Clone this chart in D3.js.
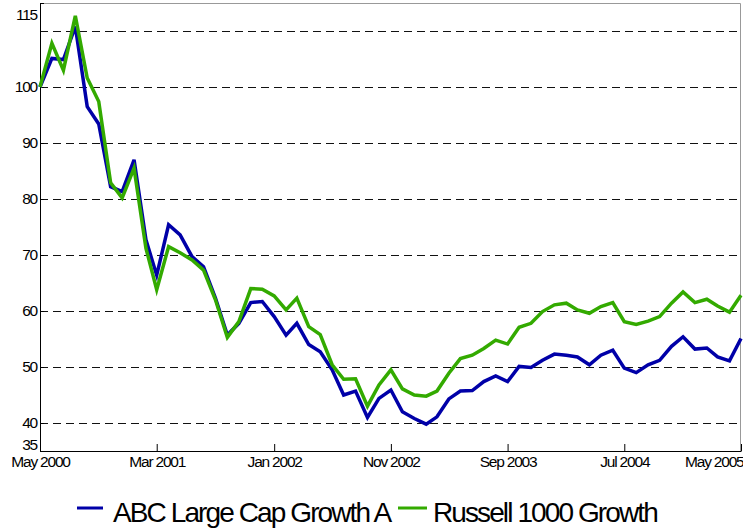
<!DOCTYPE html>
<html>
<head>
<meta charset="utf-8">
<script src="https://cdn.jsdelivr.net/npm/d3@7"></script>
<style>
    body { margin: 0; background: #fff; }
    text { font-family: "Liberation Sans", Arial, sans-serif; }
</style>
</head>
<body>
<div id="chart"></div>
<script>
// monthly points, May 2000 - May 2005
var months = d3.timeMonth.range(new Date(2000, 4, 1), new Date(2005, 5, 1));

var abcValues = [100, 105.1, 104.9, 110.8, 96.5, 93.4, 82.2, 81.3, 87.0, 72.7,
    66.4, 75.4, 73.6, 69.7, 67.9, 62.3, 55.7, 57.8, 61.5, 61.7,
    59.0, 55.7, 57.8, 54.0, 52.7, 49.5, 45.0, 45.7, 41.0, 44.4,
    45.9, 42.0, 40.8, 39.8, 41.1, 44.3, 45.7, 45.8, 47.4, 48.4,
    47.4, 50.1, 49.9, 51.2, 52.3, 52.1, 51.8, 50.4, 52.1, 53.0,
    49.8, 49.0, 50.4, 51.2, 53.7, 55.4, 53.2, 53.4, 51.8, 51.1,
    55.1];

var russellValues = [100, 107.8, 103.0, 112.7, 101.6, 97.4, 82.9, 80.2, 85.5, 71.2,
    63.8, 71.5, 70.4, 69.1, 67.3, 62.0, 55.3, 58.1, 64.0, 63.9,
    62.7, 60.2, 62.3, 57.2, 55.8, 50.4, 47.8, 47.9, 43.0, 46.8,
    49.5, 46.1, 45.0, 44.8, 45.7, 48.9, 51.5, 52.1, 53.3, 54.8,
    54.1, 57.1, 57.8, 59.9, 61.1, 61.4, 60.2, 59.6, 60.8, 61.5,
    58.1, 57.6, 58.2, 59.0, 61.4, 63.4, 61.5, 62.1, 60.9, 59.8,
    62.8];

var seriesNames = ["ABC Large Cap Growth A", "Russell 1000 Growth"];
var seriesColors = ["#0000a8", "#33aa00"];

var xTickLabels = ["May 2000", "Mar 2001", "Jan 2002", "Nov 2002", "Sep 2003", "Jul 2004", "May 2005"];
var yTickValues = [35, 40, 50, 60, 70, 80, 90, 100, 115];
var gridValues = [40, 50, 60, 70, 80, 90, 100, 110];

var svgWidth = 743;
var svgHeight = 529;

var margin = {
    top: 3,
    right: 2,
    bottom: 78,
    left: 40
};

var width = svgWidth - margin.left - margin.right;
var height = svgHeight - margin.top - margin.bottom;

var svg = d3.select("#chart")
    .append("svg")
    .attr("width", svgWidth)
    .attr("height", svgHeight);

var chartGroup = svg.append("g")
    .attr("transform", `translate(${margin.left}, ${margin.top})`);

var xScale = d3.scaleTime()
    .domain([months[0], months[months.length - 1]])
    .range([0, width]);

var yScale = d3.scaleLinear()
    .domain([35, 115])
    .range([height, 0]);

// dashed grid, snapped to whole pixels so it stays dark
chartGroup.append("g")
    .selectAll("line")
    .data(gridValues)
    .enter()
    .append("line")
    .attr("x1", 0)
    .attr("x2", width)
    .attr("y1", d => Math.round(yScale(d)) + 0.5)
    .attr("y2", d => Math.round(yScale(d)) + 0.5)
    .attr("stroke", "#111")
    .attr("stroke-width", 1)
    .attr("stroke-dasharray", "8,5");

// frame: grey top/right, black left/bottom
chartGroup.append("path")
    .attr("d", `M0,0.5H${width - 0.5}V${height}`)
    .attr("fill", "none")
    .attr("stroke", "#999");

var xTicks = months.filter((d, i) => i % 10 === 0);

var bottomAxis = d3.axisBottom(xScale)
    .tickValues(xTicks)
    .tickFormat((d, i) => xTickLabels[i])
    .tickSizeInner(-7)
    .tickSizeOuter(0)
    .tickPadding(5);

var leftAxis = d3.axisLeft(yScale)
    .tickValues(yTickValues)
    .tickSizeInner(-4)
    .tickSizeOuter(0)
    .tickPadding(3);

var xAxisGroup = chartGroup.append("g")
    .attr("transform", `translate(0, ${height})`)
    .call(bottomAxis);

var yAxisGroup = chartGroup.append("g").call(leftAxis);

[xAxisGroup, yAxisGroup].forEach(function (g) {
    g.select(".domain").attr("stroke", "#000");
    g.selectAll(".tick line").attr("stroke", "#000");
    g.selectAll("text")
        .attr("font-family", "Liberation Sans, Arial, sans-serif")
        .attr("font-size", "15.5px")
        .attr("letter-spacing", "-1.2px")
        .attr("fill", "#000");
});

// last date label kept inside the svg
xAxisGroup.selectAll(".tick text")
    .filter((d, i) => i === xTicks.length - 1)
    .attr("text-anchor", "end")
    .attr("x", 2);

// end labels nudged inside the frame
yAxisGroup.selectAll(".tick text")
    .filter(d => d === 115)
    .attr("dy", "1.05em");

yAxisGroup.selectAll(".tick text")
    .filter(d => d === 35)
    .attr("dy", "-0.08em");

var line = d3.line()
    .x((d, i) => xScale(months[i]))
    .y(d => yScale(d));

[abcValues, russellValues].forEach(function (values, k) {
    chartGroup.append("path")
        .datum(values)
        .attr("d", line)
        .attr("fill", "none")
        .attr("stroke", seriesColors[k])
        .attr("stroke-width", 3.5);
});

// legend
var legendX = [[37, 63, 73], [358, 387, 393]];

var legend = chartGroup.append("g")
    .attr("transform", `translate(0, ${height + 57})`);

seriesNames.forEach(function (name, k) {
    legend.append("line")
        .attr("x1", legendX[k][0])
        .attr("x2", legendX[k][1])
        .attr("y1", 0)
        .attr("y2", 0)
        .attr("stroke", seriesColors[k])
        .attr("stroke-width", 3);

    legend.append("text")
        .attr("x", legendX[k][2])
        .attr("y", 14)
        .attr("font-size", "28px")
        .attr("letter-spacing", "-1.9px")
        .attr("fill", "#000")
        .text(name);
});
</script>
</body>
</html>
